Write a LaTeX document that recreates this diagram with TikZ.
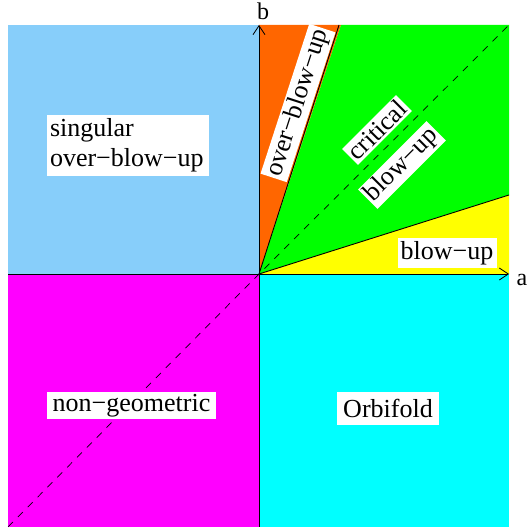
\documentclass[tikz,border=0pt]{standalone}
\usepackage{fontspec}
\setmainfont{Liberation Serif}
\usetikzlibrary{arrows.meta}
\definecolor{lblue}{RGB}{135,206,250}
\definecolor{orng}{RGB}{255,102,0}
\definecolor{grn}{RGB}{0,255,0}
\definecolor{ylw}{RGB}{255,255,0}
\definecolor{mgnt}{RGB}{255,0,255}
\definecolor{cyn}{RGB}{0,255,255}
\tikzset{
  lbl/.style={fill=white,inner sep=2pt,font=\fontsize{26}{30}\selectfont},
  axis/.style={line width=0.8pt,-{Straight Barb[length=9pt,width=12pt]}},
  bound/.style={line width=0.9pt},
  diag/.style={line width=0.7pt,dash pattern=on 7pt off 7pt},
}
\begin{document}
\begin{tikzpicture}[x=1pt,y=1pt]
\useasboundingbox (0,0) rectangle (529,529);
\coordinate (O) at (259,255);
\coordinate (TL) at (8,504);
\coordinate (TR) at (509,504);
\coordinate (BL) at (8,2);
\coordinate (BR) at (509,2);
\coordinate (T) at (259,504);
\coordinate (B) at (259,2);
\coordinate (L) at (8,255);
\coordinate (R) at (509,255);
\coordinate (P1) at (341,504);
\coordinate (P2) at (509,334);
% quadrants
\fill[lblue] (L) rectangle (T);
\fill[mgnt] (BL) rectangle (O);
\fill[cyn] (B) rectangle (R);
\fill[orng] (O) -- (T) -- (P1) -- cycle;
\fill[grn] (O) -- (P1) -- (TR) -- (P2) -- cycle;
\fill[ylw] (O) -- (P2) -- (R) -- cycle;
% boundaries
\draw[bound] (O) -- (339,504);
\draw[bound] (O) -- (P2);
\draw[diag] (BL) -- (O) -- (TR);
% axes
\draw[line width=0.6pt] (B) -- (O);
\draw[line width=0.6pt] (L) -- (O);
\draw[axis] (O) -- (T);
\draw[axis] (O) -- (R);
\node[font=\fontsize{24}{28}\selectfont,anchor=base] (lb) at (263,509) {b};
\node[font=\fontsize{24}{28}\selectfont,anchor=base] (la) at (522,243) {a};
% labels
\node[lbl,align=left,minimum width=162pt,minimum height=61pt,text width=156pt] (sing) at (128,383.5) {singular\\over−blow−up};
\node[lbl,minimum width=169pt,minimum height=27pt] (ng) at (131.5,123.5) {non−geometric};
\node[lbl,minimum width=102pt,minimum height=33pt] (orb) at (388,120.5) {Orbifold};
\node[lbl,minimum width=99pt,minimum height=30pt] (bu) at (447,276) {blow−up};
\node[lbl,rotate=72] (obu) at (298,426) {over−blow−up};
\node[lbl,rotate=45] (crit) at (377,399) {critical};
\node[lbl,rotate=45] (cbu) at (402,364) {blow−up};
\end{tikzpicture}
\end{document}
